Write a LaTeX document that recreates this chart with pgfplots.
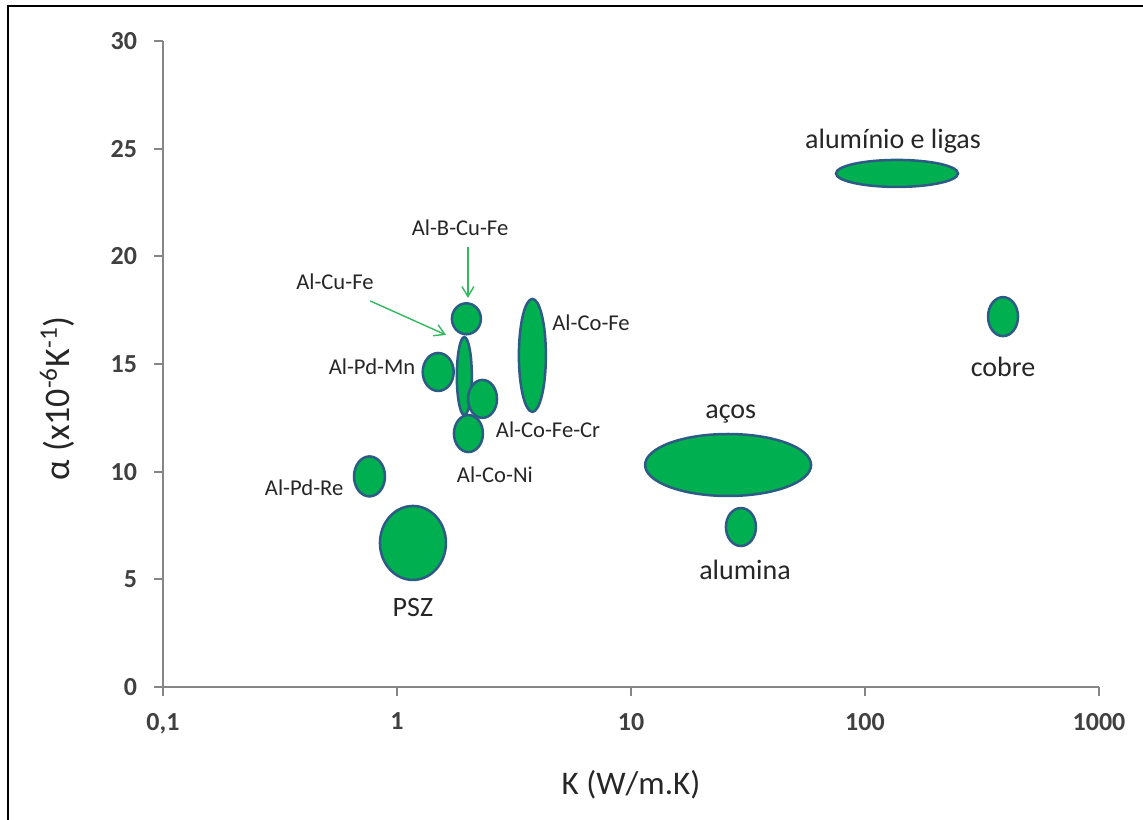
\documentclass[border=0pt]{standalone}
\usepackage{pgfplots}
\pgfplotsset{compat=1.18}
\usepackage{pgfplotstable}
\usepackage{fontspec}
\setmainfont{Carlito}
\usetikzlibrary{arrows.meta}
\definecolor{grn}{HTML}{00B050}
\definecolor{outl}{HTML}{2E5A86}
\definecolor{axgray}{HTML}{868686}
\definecolor{txt}{HTML}{404040}
\definecolor{lbl}{HTML}{262626}
\definecolor{arr}{HTML}{33B860}

\pgfdeclareplotmark{ell}{%
  \pgfpathellipse{\pgfpointorigin}{\pgfpoint{\myrx pt}{0pt}}{\pgfpoint{0pt}{\myry pt}}%
  \pgfusepathqfillstroke}

% x, y = centre; rx, ry = half-axes in pt
\pgfplotstableread{
x y rx ry
1.94 14.44 3.75 19.5
137 23.85 30.5 6.75
389 17.2 7.5 9.75
26 10.31 41.5 15.5
29.5 7.43 7.5 9.5
1.98 17.1 7.25 7.75
1.50 14.63 7.75 9.5
2.32 13.38 7.25 9.5
2.02 11.77 7.25 9.25
3.79 15.40 6.75 28.25
0.763 9.78 7.75 10
1.17 6.69 16.5 18.5
}\ellipses

\begin{document}
\begin{tikzpicture}
\begin{axis}[name=ax, scale only axis, width=468pt, height=323pt,
  xmode=log, log basis x=10, xmin=0.1, xmax=1000, ymin=0, ymax=30,
  axis x line*=bottom, axis y line*=left,
  axis line style={axgray, line width=1pt},
  xtick={0.1,1,10,100,1000}, xticklabels={{0,1},1,10,100,1000},
  ytick={0,5,...,30}, xminorticks=false,
  tick align=outside, major tick length=4.5pt,
  tick style={axgray, line width=1pt},
  ticklabel style={font=\fontsize{13}{15}\selectfont\bfseries, text=txt},
  xticklabel style={yshift=-5pt},
  yticklabel style={xshift=-5pt},
  /pgf/number format/assume math mode=true,
  clip=false]
\addplot[scatter, only marks, mark=ell,
  scatter/use mapped color={draw=outl, fill=grn},
  mark options={line width=1.25pt},
  visualization depends on={\thisrow{rx}\as\myrx},
  visualization depends on={\thisrow{ry}\as\myry}]
  table[x=x, y=y] {\ellipses};

\begin{scope}[font=\fontsize{14}{16}\selectfont, text=lbl]
\node at (axis cs:131.8,25.36) {alumínio e ligas};
\node at (axis cs:389,14.86) {cobre};
\node at (axis cs:26.7,12.68) {aços};
\node at (axis cs:30.7,5.43) {alumina};
\node at (axis cs:1.17,3.67) {PSZ};
\end{scope}
\begin{scope}[font=\fontsize{11.3}{13}\selectfont, text=lbl]
\node at (axis cs:1.86,21.32) {Al-B-Cu-Fe};
\node at (axis cs:0.543,18.81) {Al-Cu-Fe};
\node at (axis cs:6.75,16.91) {Al-Co-Fe};
\node at (axis cs:0.782,14.86) {Al-Pd-Mn};
\node at (axis cs:4.42,11.94) {Al-Co-Fe-Cr};
\node at (axis cs:2.62,9.85) {Al-Co-Ni};
\node at (axis cs:0.401,9.24) {Al-Pd-Re};
\end{scope}
\draw[arr, line width=0.7pt, -{Straight Barb[length=5pt,width=6pt]}] (axis cs:2.01,20.44) -- (axis cs:2.01,18.07);
\draw[arr, line width=0.7pt, -{Straight Barb[length=5pt,width=6pt]}] (axis cs:0.768,17.93) -- (axis cs:1.62,16.35);

\node[rotate=90, font=\fontsize{18}{20}\selectfont, text=lbl] at (axis description cs:-0.113,0.447) {α (x10\textsuperscript{-6}K\textsuperscript{-1})};
\node[font=\fontsize{16.5}{18}\selectfont, text=lbl] at (axis description cs:0.5,-0.152) {K (W/m.K)};

\draw[line width=1pt, black] (axis description cs:-0.1656,-0.25) -- (axis description cs:-0.1656,1.0542) -- (axis description cs:1.06,1.0542);
\end{axis}
\pgfresetboundingbox
\path ([shift={(-81.5pt,-66pt)}]ax.south west) rectangle ([shift={(22pt,20.5pt)}]ax.north east);
\end{tikzpicture}
\end{document}
